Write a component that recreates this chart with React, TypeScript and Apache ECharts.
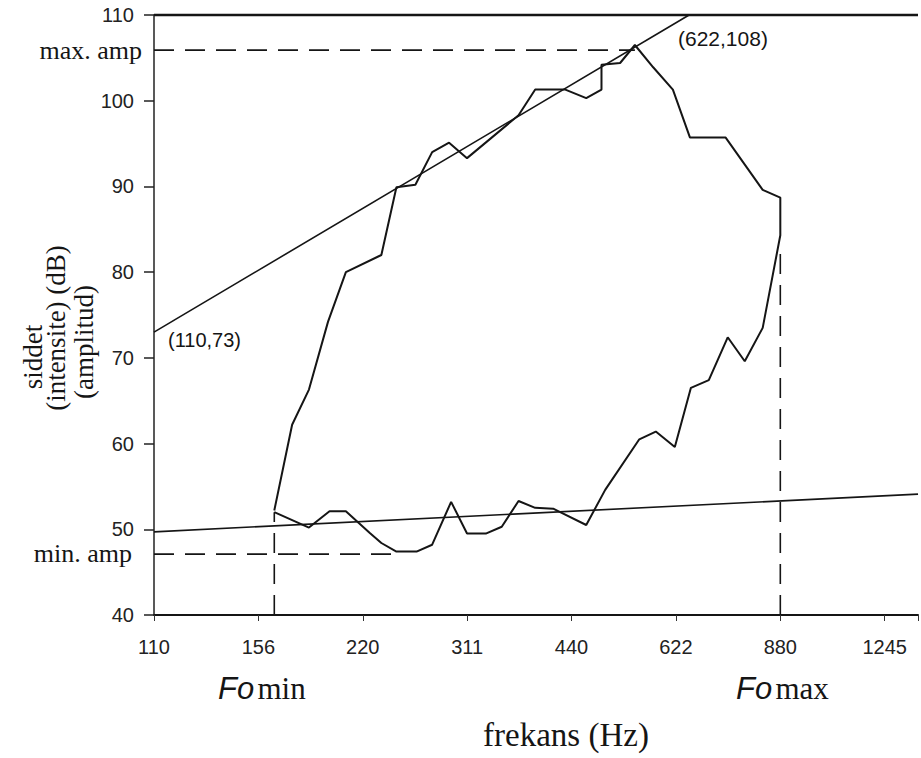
import React, { useEffect, useRef } from "react";
import * as echarts from "echarts";

// x axis tick labels (half-octave steps from 110 Hz)
const tickLabels = ["110", "156", "220", "311", "440", "622", "880", "1245"];
const xMinHz = 110;
const xMaxHz = 1390;
const yMin = 40;
const yMax = 110;

// phonetogram contour (closed loop): frequency (Hz) and intensity (dB)
const contourHz = [
  164, 174, 184, 196, 208, 234, 246, 262, 277, 293, 311, 369, 390, 431, 462, 486, 486, 517, 543, 577,
  616, 652, 734, 830, 880, 880,
  830, 782, 739, 694, 654, 620, 582, 551, 492, 462, 414, 390, 369, 349, 331, 311, 295, 277, 263, 246,
  234, 225, 208, 197, 184, 164,
];
const contourDb = [
  52.2, 62.2, 66.3, 74.2, 80.0, 82.0, 89.9, 90.2, 94.0, 95.1, 93.3, 98.3, 101.3, 101.3, 100.3, 101.3, 104.2, 104.4, 106.5, 103.9,
  101.3, 95.7, 95.7, 89.6, 88.7, 84.3,
  73.5, 69.6, 72.4, 67.4, 66.5, 59.6, 61.4, 60.5, 54.6, 50.5, 52.4, 52.5, 53.3, 50.3, 49.5, 49.5, 53.2, 48.2, 47.4, 47.4,
  48.4, 49.6, 52.1, 52.1, 50.2, 52.0,
];

// upper (maximum) trend line through (110,73) and (622,108)
const upperLineHz = [110, 650];
const upperLineDb = [73, 110];
// lower (minimum) trend line
const lowerLineHz = [110, 1390];
const lowerLineDb = [49.7, 54.1];
// top frame line
const topLineHz = [110, 1390];
const topLineDb = [110, 110];

// reference dashed lines
const maxAmpHz = [110, 543];
const maxAmpDb = [105.9, 105.9];
const minAmpHz = [110, 245];
const minAmpDb = [47.1, 47.1];
const foMinHz = [164, 164];
const foMinDb = [40, 52];
const foMaxHz = [880, 880];
const foMaxDb = [40, 83];

const toK = (f: number) => 2 * Math.log2(f / xMinHz);
const pairs = (hz: number[], db: number[]) => hz.map((f, i) => [toK(f), db[i]]);

const SANS = "'Liberation Sans', Arial, sans-serif";
const SERIF = "'Liberation Serif', 'Times New Roman', serif";
const INK = "#151515";

export default function App() {
  const ref = useRef<HTMLDivElement>(null);
  useEffect(() => {
    if (!ref.current) return;
    const chart = echarts.init(ref.current, undefined, { renderer: "svg" });
    const solid = (name: string, hz: number[], db: number[], width: number) => ({
      name,
      type: "line",
      data: pairs(hz, db),
      symbol: "none",
      clip: false,
      lineStyle: { color: INK, width },
      z: 3,
    });
    const dashed = (name: string, hz: number[], db: number[]) => ({
      name,
      type: "line",
      data: pairs(hz, db),
      symbol: "none",
      clip: false,
      lineStyle: { color: INK, width: 1.6, type: [20, 11] },
      z: 2,
    });
    chart.setOption({
      animation: false,
      backgroundColor: "#ffffff",
      grid: { left: 154, right: 0, top: 15, bottom: 143, containLabel: false },
      xAxis: {
        type: "value",
        min: 0,
        max: toK(xMaxHz),
        interval: 1,
        splitLine: { show: false },
        axisLine: { show: true, lineStyle: { color: INK, width: 2 } },
        axisTick: { show: true, length: 6, lineStyle: { color: "#333", width: 1 } },
        axisLabel: {
          margin: 22,
          fontFamily: SANS,
          fontSize: 20,
          color: "#222",
          formatter: (v: number) => {
            const r = Math.round(v);
            return Math.abs(v - r) < 1e-6 && r >= 0 && r < tickLabels.length ? tickLabels[r] : "";
          },
        },
      },
      yAxis: {
        type: "value",
        min: yMin,
        max: yMax,
        interval: 10,
        splitLine: { show: false },
        axisLine: { show: true, lineStyle: { color: "#222", width: 1.5 } },
        axisTick: { show: true, length: 10, lineStyle: { color: "#222", width: 1.5 } },
        axisLabel: { margin: 20, fontFamily: SANS, fontSize: 20, color: "#222" },
      },
      series: [
        solid("top", topLineHz, topLineDb, 2.5),
        solid("contour", contourHz, contourDb, 2),
        solid("upper", upperLineHz, upperLineDb, 1.6),
        solid("lower", lowerLineHz, lowerLineDb, 1.6),
        dashed("maxAmp", maxAmpHz, maxAmpDb),
        dashed("minAmp", minAmpHz, minAmpDb),
        dashed("foMin", foMinHz, foMinDb),
        dashed("foMax", foMaxHz, foMaxDb),
      ],
      graphic: [
        {
          type: "text",
          x: 142,
          y: 50,
          style: { text: "max. amp", font: `26px ${SERIF}`, fill: INK, align: "right", verticalAlign: "middle" },
        },
        {
          type: "text",
          x: 132,
          y: 553,
          style: { text: "min. amp", font: `26px ${SERIF}`, fill: INK, align: "right", verticalAlign: "middle" },
        },
        {
          type: "text",
          x: 33,
          y: 357,
          rotation: Math.PI / 2,
          style: { text: "siddet", font: `27px ${SERIF}`, fill: INK, align: "center", verticalAlign: "middle" },
        },
        {
          type: "text",
          x: 56,
          y: 328,
          rotation: Math.PI / 2,
          style: { text: "(intensite) (dB)", font: `27px ${SERIF}`, fill: INK, align: "center", verticalAlign: "middle" },
        },
        {
          type: "text",
          x: 84,
          y: 342,
          rotation: Math.PI / 2,
          style: { text: "(amplitud)", font: `27px ${SERIF}`, fill: INK, align: "center", verticalAlign: "middle" },
        },
        {
          type: "text",
          x: 168,
          y: 340,
          style: { text: "(110,73)", font: `20px ${SANS}`, fill: INK, align: "left", verticalAlign: "middle" },
        },
        {
          type: "text",
          x: 678,
          y: 38,
          style: { text: "(622,108)", font: `21px ${SANS}`, fill: INK, align: "left", verticalAlign: "middle" },
        },
        {
          type: "text",
          x: 218,
          y: 688,
          style: {
            text: "{a|Fo} {b|min}",
            align: "left",
            verticalAlign: "middle",
            rich: {
              a: { fontFamily: SANS, fontStyle: "italic", fontSize: 31, fill: INK, color: INK },
              b: { fontFamily: SERIF, fontSize: 31, fill: INK, color: INK },
            },
          },
        },
        {
          type: "text",
          x: 736,
          y: 688,
          style: {
            text: "{a|Fo} {b|max}",
            align: "left",
            verticalAlign: "middle",
            rich: {
              a: { fontFamily: SANS, fontStyle: "italic", fontSize: 31, fill: INK, color: INK },
              b: { fontFamily: SERIF, fontSize: 31, fill: INK, color: INK },
            },
          },
        },
        {
          type: "text",
          x: 566,
          y: 735,
          style: { text: "frekans (Hz)", font: `33px ${SERIF}`, fill: INK, align: "center", verticalAlign: "middle" },
        },
      ],
    });
    return () => chart.dispose();
  }, []);
  return (
    <div
      ref={ref}
      style={{ position: "absolute", left: 0, top: 0, width: 921, height: 758, background: "#fff" }}
    />
  );
}
